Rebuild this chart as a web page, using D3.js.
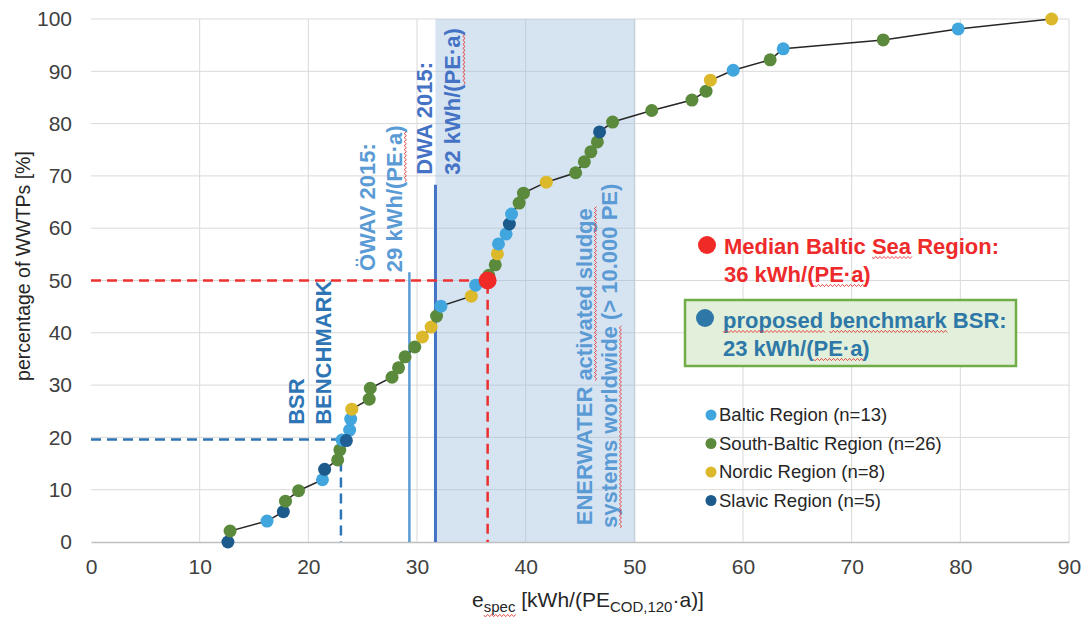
<!DOCTYPE html>
<html>
<head>
<meta charset="utf-8">
<script src="https://cdn.jsdelivr.net/npm/d3@7"></script>
<style>
  body { margin: 0; background: #fff; }
  svg { display: block; font-family: "Liberation Sans", Arial, sans-serif; }
</style>
</head>
<body>
<svg width="1090" height="618"></svg>
<script>
// specific energy per plant [kWh/(PE*a)], sorted, with cumulative share [%]
const espec = [12.6,12.8,16.2,17.7,17.9,19.1,21.3,21.5,22.7,22.9,23.1,23.8,23.9,24.0,25.6,25.7,27.7,28.3,28.9,29.8,
               30.5,31.3,31.8,32.2,35.0,35.4,36.6,37.2,37.4,37.5,38.2,38.5,38.7,39.4,39.8,41.9,44.6,45.4,46.0,46.6,
               46.8,48.0,51.6,55.3,56.6,57.0,59.1,62.5,63.7,72.9,79.8,88.4];
const share = [0,2.1,4.0,5.8,7.8,9.8,11.9,13.9,15.7,17.6,19.5,21.4,23.5,25.4,27.3,29.4,31.5,33.3,35.4,37.3,
               39.2,41.1,43.2,45.1,47.0,49.1,51.0,53.0,55.1,57.0,58.9,60.8,62.7,64.8,66.7,68.8,70.6,72.7,74.6,76.5,
               78.4,80.3,82.5,84.5,86.2,88.3,90.2,92.2,94.3,96.0,98.1,100];
// B = Baltic, S = South-Baltic, N = Nordic, V = Slavic
const region = ['V','S','B','V','S','S','B','V','S','S','B','B','B','N','S','S','S','S','S','S',
                'N','N','S','B','N','B','S','S','N','B','B','V','B','S','S','N','S','S','S','S',
                'V','S','S','S','S','N','B','S','B','S','B','N'];

const regionKeys = ['B','S','N','V'];
const regionNames = ['Baltic Region (n=13)','South-Baltic Region (n=26)','Nordic Region (n=8)','Slavic Region (n=5)'];

const xTicks = [0,10,20,30,40,50,60,70,80,90];
const yTicks = [0,10,20,30,40,50,60,70,80,90,100];

// reference values
const median = {x: 36.5, y: 50};
const bench = {x: 23.0, y: 19.6};
const benchDot = {x: 23.5, y: 19.4};
const owav = 29.3, owavTop = 51.6;
const dwa = 31.7, dwaTop = 68.3;
const enerBand = [31.7, 50.1];

const colors = {B:'#40a6dd', S:'#5b8a3c', N:'#dcb92b', V:'#1d5a8c'};
const FONT = '"Liberation Sans", Arial, sans-serif';

const svg = d3.select('svg');
const x = d3.scaleLinear().domain([0,90]).range([91,1069]);
const y = d3.scaleLinear().domain([0,100]).range([542,19]);

// red spell-check squiggle under part of a text
function squiggle(parent, textNode, word) {
  const s = textNode.textContent;
  const i = s.indexOf(word);
  if (i < 0) return;
  const p0 = textNode.getStartPositionOfChar(i);
  const p1 = textNode.getEndPositionOfChar(i + word.length - 1);
  const yb = p0.y + 3.5;
  let d = `M${p0.x},${yb}`;
  for (let xx = p0.x, k = 0; xx < p1.x; xx += 2, k++) d += `L${xx+2},${yb + (k % 2 ? -1.1 : 1.1)}`;
  parent.append('path').attr('d', d).attr('fill','none').attr('stroke','#e23a3a').attr('stroke-width',0.9);
}

// grid
const grid = svg.append('g');
grid.selectAll('.vg').data(xTicks.slice(1)).enter().append('line')
  .attr('x1', d=>x(d)).attr('x2', d=>x(d)).attr('y1', y(0)).attr('y2', y(100))
  .attr('stroke','#d9d9d9').attr('stroke-width',1);
grid.selectAll('.hg').data(yTicks.slice(1)).enter().append('line')
  .attr('x1', x(0)).attr('x2', x(90)).attr('y1', d=>y(d)).attr('y2', d=>y(d))
  .attr('stroke','#d9d9d9').attr('stroke-width',1);

// ENERWATER band
svg.append('rect')
  .attr('x', x(enerBand[0])).attr('width', x(enerBand[1]) - x(enerBand[0]))
  .attr('y', y(100)).attr('height', y(0) - y(100))
  .attr('fill','#98bbde').attr('opacity',0.4);

// axes
const gX = svg.append('g').attr('transform',`translate(0,${y(0)})`)
  .call(d3.axisBottom(x).tickValues(xTicks).tickSize(0).tickPadding(17));
gX.select('.domain').attr('stroke','#bfbfbf').attr('stroke-width',1.5);
gX.selectAll('text').attr('font-size',21).attr('fill','#404040').attr('font-family',FONT);

const gY = svg.append('g').attr('transform',`translate(${x(0)},0)`)
  .call(d3.axisLeft(y).tickValues(yTicks).tickSize(0).tickPadding(19));
gY.select('.domain').remove();
gY.selectAll('text').attr('font-size',21).attr('fill','#404040').attr('font-family',FONT);

// axis titles
svg.append('text')
  .attr('transform','translate(30,266) rotate(-90)')
  .attr('text-anchor','middle').attr('font-size',19.5).attr('fill','#262626')
  .text('percentage of WWTPs [%]');

const xt = svg.append('text')
  .attr('x', 588).attr('y', 607)
  .attr('text-anchor','middle').attr('font-size',21).attr('fill','#262626');
xt.append('tspan').text('e');
xt.append('tspan').text('spec').attr('font-size',15).attr('dy',5);
xt.append('tspan').text(' [kWh/(PE').attr('dy',-5);
xt.append('tspan').text('COD,120').attr('font-size',15).attr('dy',5);
xt.append('tspan').text('·a)]').attr('dy',-5);
squiggle(svg, xt.node(), 'spec');

// reference lines
svg.append('line').attr('x1',x(owav)).attr('x2',x(owav)).attr('y1',y(0)).attr('y2',y(owavTop))
  .attr('stroke','#5b9bd5').attr('stroke-width',2.5);
svg.append('line').attr('x1',x(dwa)).attr('x2',x(dwa)).attr('y1',y(0)).attr('y2',y(dwaTop))
  .attr('stroke','#4472c4').attr('stroke-width',3);

// dashed guides
const dashed = (pt, col) => {
  svg.append('path')
    .attr('d', `M${x(0)},${y(pt.y)}H${x(pt.x)}V${y(0)}`)
    .attr('fill','none').attr('stroke',col).attr('stroke-width',2.5).attr('stroke-dasharray','10,6');
};
dashed(median, '#ee3030');
dashed(bench, '#2e75b6');

// curve
const pts = espec.map((v,i) => ({x:v, y:share[i], r:region[i]}));
svg.append('path').datum(pts)
  .attr('d', d3.line().x(d=>x(d.x)).y(d=>y(d.y)))
  .attr('fill','none').attr('stroke','#262626').attr('stroke-width',1.5);

svg.selectAll('circle.pt').data(pts).enter().append('circle')
  .attr('class','pt')
  .attr('cx', d=>x(d.x)).attr('cy', d=>y(d.y)).attr('r',6.5)
  .attr('fill', d=>colors[d.r]);

svg.append('circle').attr('cx',x(benchDot.x)).attr('cy',y(benchDot.y)).attr('r',6.5).attr('fill','#1f5f95');
svg.append('circle').attr('cx',x(median.x)).attr('cy',y(median.y)).attr('r',9).attr('fill','#f02a26');

// rotated annotations
const vtext = (xv, yv, str, col, marks) => {
  const g = svg.append('g').attr('transform',`translate(${x(xv)},${y(yv)}) rotate(-90)`);
  const t = g.append('text').attr('font-size',22).attr('font-weight','bold').attr('fill',col).text(str);
  (marks || []).forEach(w => squiggle(g, t.node(), w));
};

vtext(19.6, 22.4, 'BSR', '#2e75b6');
vtext(22.1, 22.4, 'BENCHMARK', '#2e75b6');
vtext(26.1, 51.8, 'ÖWAV 2015:', '#5b9bd5');
vtext(28.6, 51.6, '29 kWh/(PE·a)', '#5b9bd5', ['PE·a']);
vtext(31.4, 70.2, 'DWA 2015:', '#4472c4');
vtext(34.0, 70.2, '32 kWh/(PE·a)', '#4472c4', ['PE·a']);
vtext(46.1, 3.2, 'ENERWATER activated sludge', '#5b9bd5', ['activated sludge']);
vtext(48.4, 2.7, 'systems worldwide (> 10.000 PE)', '#5b9bd5', ['systems worldwide']);

// median note
svg.append('circle').attr('cx',707).attr('cy',245).attr('r',9).attr('fill','#f02a26');
const mt = svg.append('text').attr('font-size',22).attr('font-weight','bold').attr('fill','#ee2a2a');
mt.append('tspan').attr('x',724).attr('y',254).text('Median Baltic Sea Region:');
mt.append('tspan').attr('x',724).attr('y',282).text('36 kWh/(PE·a)');
squiggle(svg, mt.node(), 'Sea');
squiggle(svg, mt.node(), 'PE·a');

// benchmark note
svg.append('rect').attr('x',685).attr('y',300).attr('width',331).attr('height',66)
  .attr('fill','#e2efda').attr('stroke','#70ad47').attr('stroke-width',2.5);
svg.append('circle').attr('cx',705).attr('cy',318).attr('r',9).attr('fill','#2e78a8');
const bt = svg.append('text').attr('font-size',22).attr('font-weight','bold').attr('fill','#2e78a8');
bt.append('tspan').attr('x',723).attr('y',328).text('proposed benchmark BSR:');
bt.append('tspan').attr('x',723).attr('y',356).text('23 kWh/(PE·a)');
squiggle(svg, bt.node(), 'proposed');
squiggle(svg, bt.node(), 'benchmark');
squiggle(svg, bt.node(), 'PE·a');

// legend
const leg = svg.append('g');
regionKeys.forEach((k,i) => {
  leg.append('circle').attr('cx',711).attr('cy',415 + i*28.5).attr('r',5.5).attr('fill',colors[k]);
  leg.append('text').attr('x',719).attr('y',421 + i*28.5).attr('font-size',18.5).attr('fill','#262626').text(regionNames[i]);
});
</script>
</body>
</html>
